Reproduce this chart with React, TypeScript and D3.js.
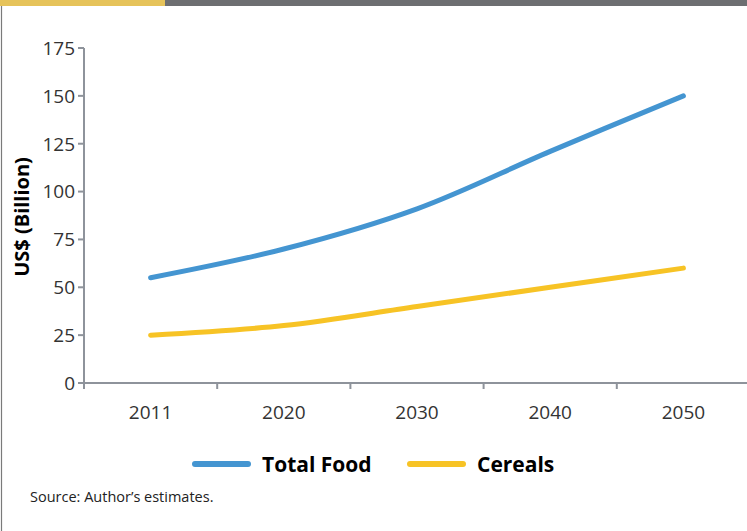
import React from "react";
import * as d3 from "d3";

const years = ["2011", "2020", "2030", "2040", "2050"];
const totalFood = [55, 70, 91, 121, 150];
const cereals = [25, 30, 40, 50, 60];
const yTicks = [0, 25, 50, 75, 100, 125, 150, 175];
const seriesNames = ["Total Food", "Cereals"];
const seriesColors = ["#4495D1", "#F7C325"];

const W = 747;
const H = 531;

export default function App() {
  const x = d3.scaleBand<string>().domain(years).range([84, 750]);
  const y = d3.scaleLinear().domain([0, 175]).range([383, 48]);
  const line = d3
    .line<number>()
    .x((_, i) => (x(years[i]) as number) + x.bandwidth() / 2)
    .y((d) => y(d))
    .curve(d3.curveCatmullRom.alpha(0.5));
  const series = [totalFood, cereals];
  const font = "'Open Sans', sans-serif";
  const axisColor = "#8E939B";
  const boundaries = years.map((yr) => x(yr) as number);

  return (
    <svg
      width={W}
      height={H}
      style={{ position: "absolute", left: 0, top: 0, display: "block" }}
    >
      <rect x={0} y={0} width={W} height={H} fill="#fff" />
      <rect x={0} y={0} width={165} height={6} fill="#E6C35A" />
      <rect x={165} y={0} width={W - 165} height={6} fill="#6D6E71" />
      <line x1={1.5} x2={1.5} y1={6} y2={H} stroke="#7A7A7A" strokeWidth={1.2} />

      {/* y axis */}
      <line x1={84} x2={84} y1={y(175)} y2={y(0)} stroke={axisColor} strokeWidth={2} />
      {yTicks.map((t) => (
        <g key={t}>
          <line x1={78} x2={84} y1={y(t)} y2={y(t)} stroke={axisColor} strokeWidth={2} />
          <text
            x={75}
            y={y(t)}
            dy="0.36em"
            textAnchor="end"
            fontFamily={font}
            fontSize={19}
            fill="#333"
          >
            {t}
          </text>
        </g>
      ))}

      {/* x axis */}
      <line x1={83} x2={W} y1={y(0)} y2={y(0)} stroke={axisColor} strokeWidth={2} />
      {boundaries.map((b, i) => (
        <line key={i} x1={b} x2={b} y1={y(0)} y2={y(0) + 6} stroke={axisColor} strokeWidth={2} />
      ))}
      {years.map((yr) => (
        <text
          key={yr}
          x={(x(yr) as number) + x.bandwidth() / 2}
          y={419}
          textAnchor="middle"
          fontFamily={font}
          fontSize={19}
          fill="#333"
        >
          {yr}
        </text>
      ))}

      <text
        transform={`translate(29, 217) rotate(-90)`}
        textAnchor="middle"
        fontFamily={font}
        fontWeight="bold"
        fontSize={20}
        fill="#000"
      >
        US$ (Billion)
      </text>

      {series.map((s, i) => (
        <path
          key={i}
          d={line(s) || ""}
          fill="none"
          stroke={seriesColors[i]}
          strokeWidth={5}
          strokeLinecap="round"
        />
      ))}

      {/* legend */}
      {[
        { x0: 195, tx: 262 },
        { x0: 410, tx: 477 },
      ].map((l, i) => (
        <g key={i}>
          <line
            x1={l.x0}
            x2={l.x0 + 53}
            y1={464}
            y2={464}
            stroke={seriesColors[i]}
            strokeWidth={6}
            strokeLinecap="round"
          />
          <text
            x={l.tx}
            y={464}
            dy="0.36em"
            fontFamily={font}
            fontWeight="bold"
            fontSize={21}
            fill="#000"
          >
            {seriesNames[i]}
          </text>
        </g>
      ))}

      <text x={30} y={502} fontFamily={font} fontSize={14.5} fill="#222">
        Source: Author’s estimates.
      </text>
    </svg>
  );
}
